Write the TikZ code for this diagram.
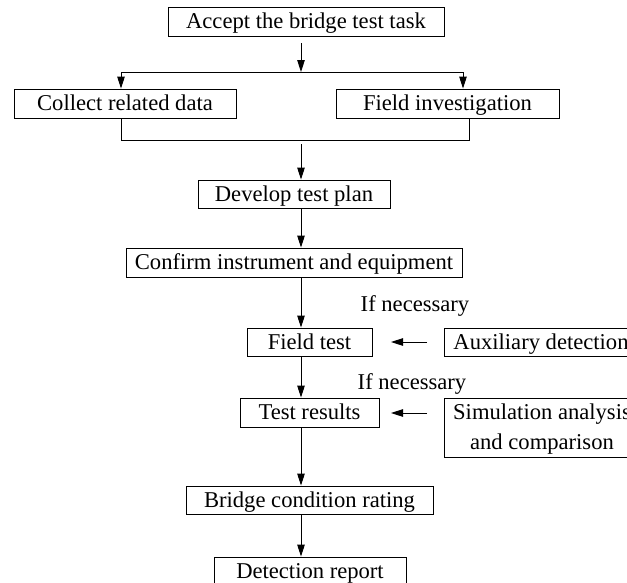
\documentclass[tikz,border=0pt]{standalone}
\usepackage{fontspec}
\setmainfont{Liberation Serif}
\usetikzlibrary{arrows.meta}
\begin{document}
\begin{tikzpicture}[x=1pt,y=-1pt,
  box/.style={draw, line width=0.9pt, inner sep=0pt, align=center,
    text height=16.3pt, text depth=1.7pt, font=\fontsize{22.6}{30}\selectfont},
  lbl/.style={inner sep=0pt, anchor=base, font=\fontsize{22.6}{26}\selectfont},
  arr/.style={line width=0.9pt, -{Triangle[length=12pt,width=7.5pt]}},
  ln/.style={line width=0.9pt}]
\useasboundingbox (0,0) rectangle (627,582);
\clip (0,0) rectangle (627,582);
% boxes
\node[box, minimum width=276pt, minimum height=29pt] (accept) at (306,21.5) {Accept the bridge test task};
\node[box, minimum width=222pt, minimum height=29pt] (collect) at (125,103.5) {Collect related data};
\node[box, minimum width=223pt, minimum height=29pt] (fieldinv) at (447.5,103.5) {Field investigation};
\node[box, minimum width=192pt, minimum height=28pt] (develop) at (294,194) {Develop test plan};
\node[box, minimum width=336pt, minimum height=29pt] (confirm) at (294,262.5) {Confirm instrument and equipment};
\node[box, minimum width=125pt, minimum height=28pt] (fieldtest) at (309.5,342) {Field test};
\node[box, minimum width=194pt, minimum height=28pt] (aux) at (541,342) {Auxiliary detection};
\node[box, minimum width=139pt, minimum height=29pt] (testres) at (309.5,412.5) {Test results};
\node[box, minimum width=196pt, minimum height=59pt, text height=45pt, text depth=2pt] (sim) at (542,427.5) {Simulation analysis\\and comparison};
\node[box, minimum width=247pt, minimum height=28pt] (bridge) at (309.5,500) {Bridge condition rating};
\node[box, minimum width=192pt, minimum height=28pt] (detect) at (310,571) {Detection report};
% labels
\node[lbl] (if1) at (415,311.7) {If necessary};
\node[lbl] (if2) at (412,389) {If necessary};
% coordinates
\coordinate (a1s) at (301,43);
\coordinate (j1) at (301,72);
\coordinate (jl) at (121,72);
\coordinate (jr) at (463,72);
\coordinate (m1) at (121,140);
\coordinate (m2) at (469,140);
\coordinate (a2s) at (301,144);
\coordinate (h1s) at (427,342);
\coordinate (h1e) at (391,342);
\coordinate (h2s) at (427,413);
\coordinate (h2e) at (391,413);
% connectors
\draw[arr] (a1s) -- (j1);
\draw[ln] (jl) -- (jr);
\draw[arr] (jl) -- (jl |- collect.north);
\draw[arr] (jr) -- (jr |- fieldinv.north);
\draw[ln] (m1 |- collect.south) -- (m1) -- (m2) -- (m2 |- fieldinv.south);
\draw[arr] (a2s) -- (a2s |- develop.north);
\draw[arr] (a2s |- develop.south) -- (a2s |- confirm.north);
\draw[arr] (a2s |- confirm.south) -- (a2s |- fieldtest.north);
\draw[arr] (a2s |- fieldtest.south) -- (a2s |- testres.north);
\draw[arr] (a2s |- testres.south) -- (a2s |- bridge.north);
\draw[arr] (a2s |- bridge.south) -- (a2s |- detect.north);
\draw[arr] (h1s) -- (h1e);
\draw[arr] (h2s) -- (h2e);
\end{tikzpicture}
\end{document}
